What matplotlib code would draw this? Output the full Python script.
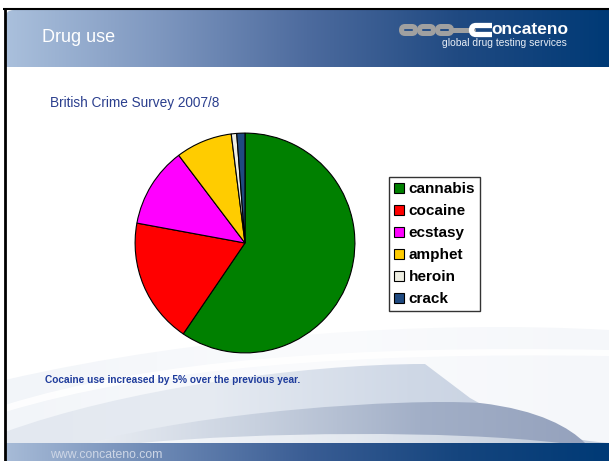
import numpy as np
import matplotlib
matplotlib.use("Agg")
import matplotlib.pyplot as plt
from matplotlib.colors import LinearSegmentedColormap
from matplotlib.path import Path
from matplotlib.patches import PathPatch, FancyBboxPatch

# ---- data ----
drugs = ["cannabis", "cocaine", "ecstasy", "amphet", "heroin", "crack"]
shares = [59.5, 18.4, 11.8, 8.3, 0.8, 1.2]
colors = ["#008000", "#ff0000", "#ff00ff", "#ffcc00", "#eeeee2", "#1f4a80"]
slide_title = "Drug use"
subtitle = "British Crime Survey 2007/8"
note = "Cocaine use increased by 5% over the previous year."
footer = "www.concateno.com"
brand = "oncateno"
tagline = "global drug testing services"

W, H = 609, 461
fig = plt.figure(figsize=(W / 100, H / 100), dpi=100)
fig.patch.set_facecolor("white")
bg = fig.add_axes([0, 0, 1, 1])
bg.axis("off")

def grad(ax, x0, x1, y0, y1, cols, clip=None, alpha=1.0, z=1):
    cmap = LinearSegmentedColormap.from_list("g", cols)
    g = np.linspace(0, 1, 256).reshape(1, -1)
    im = ax.imshow(g, extent=(x0, x1, y1, y0), cmap=cmap, aspect="auto",
                   zorder=z, alpha=alpha, interpolation="bicubic")
    if clip is not None:
        ax.add_patch(clip)
        clip.set_visible(False)
        im.set_clip_path(clip)
    return im

M, L, C4, C3, CL = Path.MOVETO, Path.LINETO, Path.CURVE4, Path.CURVE3, Path.CLOSEPOLY

# faint large swoosh
p0 = Path([(5, 380), (200, 335), (430, 320), (609, 330), (609, 443), (5, 443), (5, 380)],
          [M, C4, C4, C4, L, L, CL])
grad(bg, 5, 609, 290, 443, ["#f2f5f9", "#fafbfd", "#f5f7fa"], PathPatch(p0, transform=bg.transData), z=1)

# faint white streak
p0b = Path([(5, 405), (150, 360), (350, 345), (609, 350), (609, 356), (350, 352), (150, 368), (5, 412), (5, 405)],
           [M, C4, C4, C4, L, C4, C4, C4, CL])
bg.add_patch(PathPatch(p0b, fc="white", ec="none", alpha=0.9, zorder=1.5))

# band 1
p1 = Path([(5, 432), (120, 390), (300, 364), (425, 364), (470, 398),
           (530, 432), (570, 440), (609, 443), (5, 443), (5, 432)],
          [M, C4, C4, C4, L, C4, C4, C4, L, CL])
grad(bg, 5, 609, 355, 443, ["#e3e8f0", "#e6ebf2", "#cfd8e6", "#c3cddd"], PathPatch(p1, transform=bg.transData), z=2)

# band 2 (darker)
p2 = Path([(90, 443), (200, 412), (400, 398), (480, 403),
           (540, 410), (570, 428), (585, 443), (90, 443)],
          [M, C4, C4, C4, C4, C4, C4, CL])
grad(bg, 90, 585, 395, 443, ["#e9edf3", "#c8d1df", "#a2afc7", "#95a2bd"], PathPatch(p2, transform=bg.transData), z=3)

# band 3 (light stripe)
p3 = Path([(140, 443), (260, 432), (450, 430), (560, 443), (140, 443)],
          [M, C4, C4, C4, CL])
grad(bg, 140, 560, 425, 443, ["#f6f8fb", "#e4e9f0", "#c2ccdb"], PathPatch(p3, transform=bg.transData), z=4)

# header bar with rounded top-left corner
hp = Path([(5, 67), (5, 19), (5, 10), (14, 10), (609, 10), (609, 67), (5, 67)],
          [M, L, C3, C3, L, L, CL])
grad(bg, 5, 609, 10, 67, ["#aac0dc", "#7f98c0", "#4d6b9e", "#204a82", "#003a76"],
     PathPatch(hp, transform=bg.transData), z=5)

# footer bar
grad(bg, 5, 609, 443, 461, ["#a7bbd7", "#6d89b5", "#3a5d94", "#15457e", "#003a76"], z=5)

# black borders
bg.plot([3, 609], [9.5, 9.5], color="black", lw=1.5, zorder=6, solid_capstyle="butt")
bg.plot([4.5, 4.5], [9.5, 461], color="black", lw=2, zorder=6, solid_capstyle="butt")

# header texts
bg.text(42, 38, slide_title, color="white", fontsize=13, family="Liberation Sans",
        va="center", ha="left", zorder=7)

# logo chain
gray = "#a0a0a0"
for x0 in (399, 417, 435):
    bg.add_patch(FancyBboxPatch((x0 + 2.5, 26.5), 14, 7, boxstyle="round,pad=0,rounding_size=3.5",
                                fc="none", ec=gray, lw=3.6, zorder=7))
bg.plot([452, 473], [30, 30], color=gray, lw=3.6, zorder=7, solid_capstyle="round")
cp = Path([(492, 25.5), (476, 25.5), (471.5, 25.5), (471.5, 30), (471.5, 34.5), (476, 34.5), (492, 34.5)],
          [M, L, C3, C3, C3, C3, L])
bg.add_patch(PathPatch(cp, fc="none", ec="white", lw=3.8, zorder=8, capstyle="butt"))
bg.text(491, 29, brand, color="white", fontsize=12.5, weight="bold", family="Liberation Sans",
        va="center", ha="left", zorder=8)
bg.text(567, 43, tagline, color="#e8eef6", fontsize=7.4, family="Liberation Sans",
        va="center", ha="right", zorder=8)

# subtitle / note / footer
bg.text(50, 103, subtitle, color="#2b3f8e", fontsize=9.8, family="Liberation Sans",
        va="center", ha="left", zorder=7)
bg.text(45, 380, note, color="#1f3c9c", fontsize=7.3, weight="bold", family="Liberation Sans",
        va="center", ha="left", zorder=7)
bg.text(50, 455, footer, color="#cdd6e6", fontsize=8.8, family="Liberation Sans",
        va="center", ha="left", zorder=7)

bg.set_xlim(0, W)
bg.set_ylim(H, 0)

# pie
ax = fig.add_axes([134 / W, (H - 354) / H, 222 / W, 222 / H])
wedges, _ = ax.pie(shares, colors=colors, startangle=90, counterclock=False,
                   wedgeprops=dict(edgecolor="black", linewidth=0.8))
ax.set_xlim(-1.01, 1.01)
ax.set_ylim(-1.01, 1.01)
ax.set_aspect("equal")
ax.axis("off")

leg = fig.legend(wedges, drugs, loc="upper left", bbox_to_anchor=(389 / W, 1 - 177 / H),
                 borderaxespad=0, frameon=True, fancybox=False, edgecolor="black",
                 prop={"weight": "bold", "size": 11, "family": "Liberation Sans"},
                 handlelength=0.62, handleheight=0.62, handletextpad=0.3,
                 labelspacing=0.52, borderpad=0.35)
leg.get_frame().set_linewidth(1.0)

fig.savefig("out.png", dpi=100)
